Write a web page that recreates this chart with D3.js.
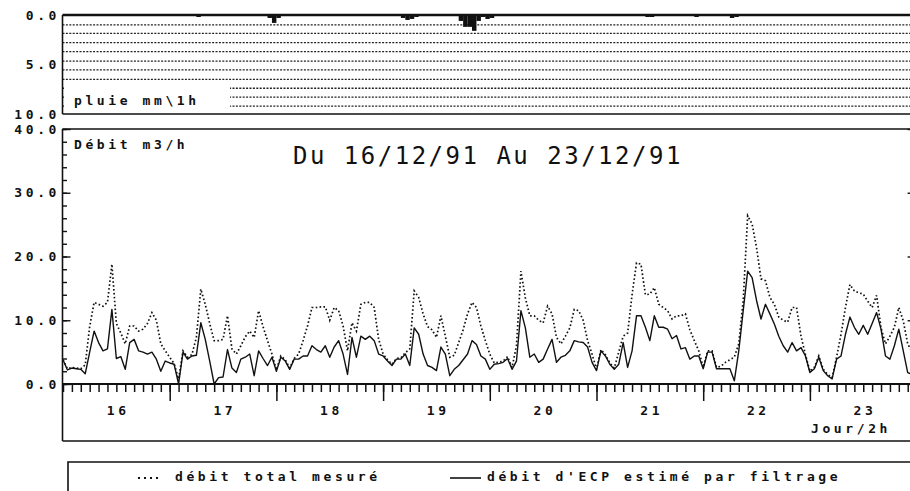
<!DOCTYPE html>
<html><head><meta charset="utf-8">
<script src="https://cdn.jsdelivr.net/npm/d3@7"></script>
<style>
body{margin:0;background:#fff}
svg{display:block;background:#fff}
.lab{font-family:"DejaVu Sans Mono",monospace;font-weight:bold;font-size:13px;letter-spacing:3.6px;fill:#111}
.title{font-family:"DejaVu Sans Mono",monospace;font-size:24px;letter-spacing:2.5px;fill:#111}
</style></head><body>
<svg id="c" width="910" height="491"></svg>
<script>
// ---- data (hourly values, hour 0 = 16/12/91 00h) ----
const ecpFlow = [3.8,2.2,2.5,2.4,2.3,1.6,5.0,8.3,6.5,5.2,
5.5,11.7,4.0,4.3,2.3,6.5,7.0,5.2,5.0,4.7,
5.0,3.9,2.0,3.6,3.3,3.1,0.0,5.0,3.9,4.4,
4.5,9.6,7.0,3.6,0.0,1.0,1.1,5.4,2.5,1.8,
3.9,4.2,4.7,1.3,5.2,4.0,2.9,4.2,2.0,4.2,
3.6,2.3,3.9,3.9,4.4,4.4,6.0,5.4,5.0,6.0,
4.2,5.8,6.8,4.7,1.5,7.3,4.2,7.5,7.0,7.5,
6.8,4.7,4.4,3.6,2.9,3.9,3.9,4.7,2.9,8.8,
7.8,4.7,2.9,2.6,2.1,5.8,4.7,1.3,2.3,2.9,
3.8,4.7,6.8,6.2,4.4,3.9,2.3,3.1,3.2,3.4,
4.0,2.3,3.6,11.5,8.8,4.2,4.7,3.4,3.9,5.5,
7.0,3.4,4.2,4.5,5.2,6.8,6.6,6.5,5.8,3.4,
2.1,5.2,4.4,3.1,2.3,3.1,6.5,2.6,5.2,10.7,
10.7,8.9,6.8,10.7,8.9,8.9,8.6,7.1,7.6,5.5,
5.7,3.9,4.4,4.4,2.4,5.0,5.0,2.4,2.4,2.4,
2.4,0.5,5.2,11.5,17.7,16.7,13.1,10.2,12.5,11.0,
9.4,7.5,6.0,5.0,6.5,5.2,5.7,4.4,1.8,2.4,
4.2,2.1,1.3,0.8,3.9,4.4,7.8,10.5,8.9,7.8,
9.2,7.8,9.5,11.2,8.6,4.4,3.9,6.0,8.6,5.2,
1.8,1.5];

const totalFlow = [3.8,2.4,2.6,2.5,2.4,3.0,9.0,12.8,12.5,12.2,
12.8,18.8,9.5,8.0,6.3,9.1,9.1,8.3,8.6,9.5,
11.2,10.0,6.3,5.2,4.2,3.2,0.8,5.2,4.2,4.6,
7.3,14.9,12.5,9.5,6.8,6.8,7.0,10.7,5.5,4.7,
6.0,7.4,8.3,7.3,11.5,9.0,6.8,4.7,2.2,4.4,
3.8,2.5,4.0,4.7,6.8,9.1,12.0,12.0,12.1,12.1,
10.0,12.0,11.5,9.1,5.2,9.6,8.3,12.5,12.8,12.8,
12.0,7.0,4.7,3.8,3.1,4.0,4.1,4.9,5.5,14.6,
13.6,11.0,9.0,8.5,7.3,10.7,7.5,4.2,4.5,6.5,
8.5,11.0,12.8,12.0,9.1,6.8,4.7,3.3,3.4,3.6,
4.3,2.6,6.0,17.7,13.5,10.7,10.7,10.0,9.6,12.2,
11.0,7.3,6.3,7.5,8.8,11.7,11.5,10.0,6.8,4.7,
2.3,5.4,4.6,3.3,2.5,5.0,7.5,8.0,14.0,19.0,
18.8,14.0,14.1,15.1,12.5,12.0,11.5,10.2,10.7,10.7,
11.0,8.5,6.8,5.2,2.6,5.2,5.2,2.6,2.8,3.4,
3.8,4.2,6.3,13.1,26.4,25.1,21.4,16.5,16.2,13.6,
12.5,10.5,10.0,9.7,12.0,12.0,7.5,4.6,2.0,2.6,
4.4,2.3,1.5,1.0,4.2,7.8,12.0,15.6,14.6,14.3,
14.1,13.0,12.0,13.9,8.8,6.3,7.5,8.9,12.0,9.9,
6.3,5.0];

const rainHours  = [7, 30, 46, 47, 48, 76, 77, 78, 79, 89, 90, 91, 92, 93, 94, 95, 96, 131, 132, 142, 150, 151];
const rainValues = [0.1,0.2,0.3,0.8,0.3,0.3,0.5,0.4,0.2,0.6,1.2,1.2,1.6,0.6,0.2,0.4,0.3,0.2,0.2,0.2,0.3,0.2];

const dayLabels = ["16","17","18","19","20","21","22","23"];
const rainTicks = [0, 5, 10];
const rainGrid = [1.0, 1.85, 2.8, 3.7, 4.65, 5.55, 6.5, 7.4, 8.3, 9.2];
const flowTicks = [0, 10, 20, 30, 40];
const titleText = "Du 16/12/91 Au 23/12/91";
const rainLabel = "pluie mm\\1h";
const flowLabel = "Débit m3/h";
const xAxisLabel = "Jour/2h";
const legendLabels = ["débit total mesuré", "débit d'ECP estimé par filtrage"];

// ---- scales ----
const svg = d3.select("#c");
const ink = "#111";
const x = d3.scaleLinear().domain([0, 192]).range([63, 916.6]);
const yR = d3.scaleLinear().domain([0, 10]).range([15, 114]);
const yQ = d3.scaleLinear().domain([0, 40]).range([384, 129]);
const leftX = 62.5, rightX = 916.6, boxBottom = 441;
const labX = 60;

// ---- rain panel ----
const gR = svg.append("g");
gR.selectAll("line.grid").data(rainGrid).join("line")
  .attr("x1", leftX).attr("x2", rightX)
  .attr("y1", d => yR(d)).attr("y2", d => yR(d))
  .attr("stroke", "#222").attr("stroke-width", 1.3).attr("stroke-dasharray", "2,1.4");
gR.append("rect").attr("x", 64).attr("y", 84).attr("width", 166).attr("height", 29).attr("fill", "#fff");
gR.append("text").attr("class", "lab").attr("x", 74).attr("y", 105).text(rainLabel);
gR.selectAll("rect.rain").data(rainHours.map((h, i) => ({h, v: rainValues[i]}))).join("rect")
  .attr("class", "rain")
  .attr("x", d => x(d.h)).attr("width", d => x(d.h + 1) - x(d.h))
  .attr("y", yR(0)).attr("height", d => yR(d.v) - yR(0)).attr("fill", ink);
gR.append("line").attr("x1", leftX).attr("x2", rightX).attr("y1", yR(0)).attr("y2", yR(0)).attr("stroke", ink).attr("stroke-width", 2.4);
gR.append("line").attr("x1", leftX).attr("x2", rightX).attr("y1", yR(10)).attr("y2", yR(10)).attr("stroke", ink).attr("stroke-width", 1.6);
gR.append("line").attr("x1", leftX).attr("x2", leftX).attr("y1", yR(0)).attr("y2", yR(10)).attr("stroke", ink).attr("stroke-width", 1.6);
gR.selectAll("text.tick").data(rainTicks).join("text")
  .attr("class", "lab tick").attr("text-anchor", "end")
  .attr("x", labX).attr("y", d => yR(d) + 4.5).text(d => d3.format(".1f")(d));

// ---- flow panel ----
const gQ = svg.append("g");
gQ.append("line").attr("x1", leftX).attr("x2", rightX).attr("y1", yQ(40)).attr("y2", yQ(40)).attr("stroke", ink).attr("stroke-width", 1.6);
gQ.append("line").attr("x1", leftX).attr("x2", rightX).attr("y1", boxBottom).attr("y2", boxBottom).attr("stroke", ink).attr("stroke-width", 1.6);
gQ.append("line").attr("x1", leftX).attr("x2", leftX).attr("y1", yQ(40)).attr("y2", boxBottom).attr("stroke", ink).attr("stroke-width", 1.6);
gQ.append("line").attr("x1", rightX).attr("x2", rightX).attr("y1", yQ(40)).attr("y2", boxBottom).attr("stroke", ink).attr("stroke-width", 1.6);

const yMinor = svg.append("g").attr("transform", `translate(${leftX},0)`)
  .call(d3.axisRight(yQ).tickValues(d3.range(0, 41, 2)).tickSize(4.5).tickFormat(""));
const yMajor = svg.append("g").attr("transform", `translate(${leftX},0)`)
  .call(d3.axisRight(yQ).tickValues(flowTicks).tickSize(8).tickFormat(""));
const yRight = svg.append("g").attr("transform", `translate(${rightX},0)`)
  .call(d3.axisLeft(yQ).tickValues(flowTicks).tickSize(9).tickFormat(""));
[yMinor, yMajor, yRight].forEach(g => { g.select(".domain").remove(); g.selectAll("line").attr("stroke", ink).attr("stroke-width", 1.4); });

gQ.selectAll("text.tick").data(flowTicks).join("text")
  .attr("class", "lab tick").attr("text-anchor", "end")
  .attr("x", labX).attr("y", d => yQ(d) + 4.5).text(d => d3.format(".1f")(d));

const xMinor = svg.append("g").attr("transform", `translate(0,${yQ(0)})`)
  .call(d3.axisBottom(x).tickValues(d3.range(0, 192, 2)).tickSize(8).tickFormat(""));
const xMajor = svg.append("g").attr("transform", `translate(0,${yQ(0)})`)
  .call(d3.axisBottom(x).tickValues(d3.range(24, 192, 24)).tickSize(17).tickFormat(""));
[xMinor, xMajor].forEach(g => { g.select(".domain").attr("stroke", ink).attr("stroke-width", 1.8).attr("d", `M${leftX},0H${rightX}`); g.selectAll("line").attr("stroke", ink).attr("stroke-width", 1.5); });
svg.selectAll("text.day").data(dayLabels).join("text")
  .attr("class", "lab day").attr("text-anchor", "middle")
  .attr("x", (d, i) => x(i * 24 + 12) + 1.8).attr("y", 415).text(d => d);
svg.append("text").attr("class", "lab").attr("text-anchor", "end").attr("x", 891).attr("y", 433).text(xAxisLabel);

svg.append("text").attr("class", "lab").attr("x", 74).attr("y", 149).text(flowLabel);
svg.append("text").attr("class", "title").attr("x", 293).attr("y", 164).text(titleText);

const line = d3.line().x((d, i) => x(i)).y(d => yQ(d));
svg.append("path").datum(ecpFlow).attr("d", line).attr("fill", "none").attr("stroke", ink).attr("stroke-width", 1.4).attr("stroke-linejoin", "round");
svg.append("path").datum(totalFlow).attr("d", line).attr("fill", "none").attr("stroke", ink).attr("stroke-width", 1.7).attr("stroke-dasharray", "1.6,2.3");

// ---- legend ----
const gL = svg.append("g");
gL.append("path").attr("d", "M68,500V462H915").attr("fill", "none").attr("stroke", ink).attr("stroke-width", 1.6);
gL.append("line").attr("x1", 138).attr("x2", 161).attr("y1", 478).attr("y2", 478)
  .attr("stroke", ink).attr("stroke-width", 1.8).attr("stroke-dasharray", "2,4");
gL.append("text").attr("class", "lab").attr("x", 175).attr("y", 481).text(legendLabels[0]);
gL.append("line").attr("x1", 450).attr("x2", 481).attr("y1", 478).attr("y2", 478)
  .attr("stroke", ink).attr("stroke-width", 1.6);
gL.append("text").attr("class", "lab").attr("x", 487).attr("y", 481).text(legendLabels[1]);
</script>
</body></html>
